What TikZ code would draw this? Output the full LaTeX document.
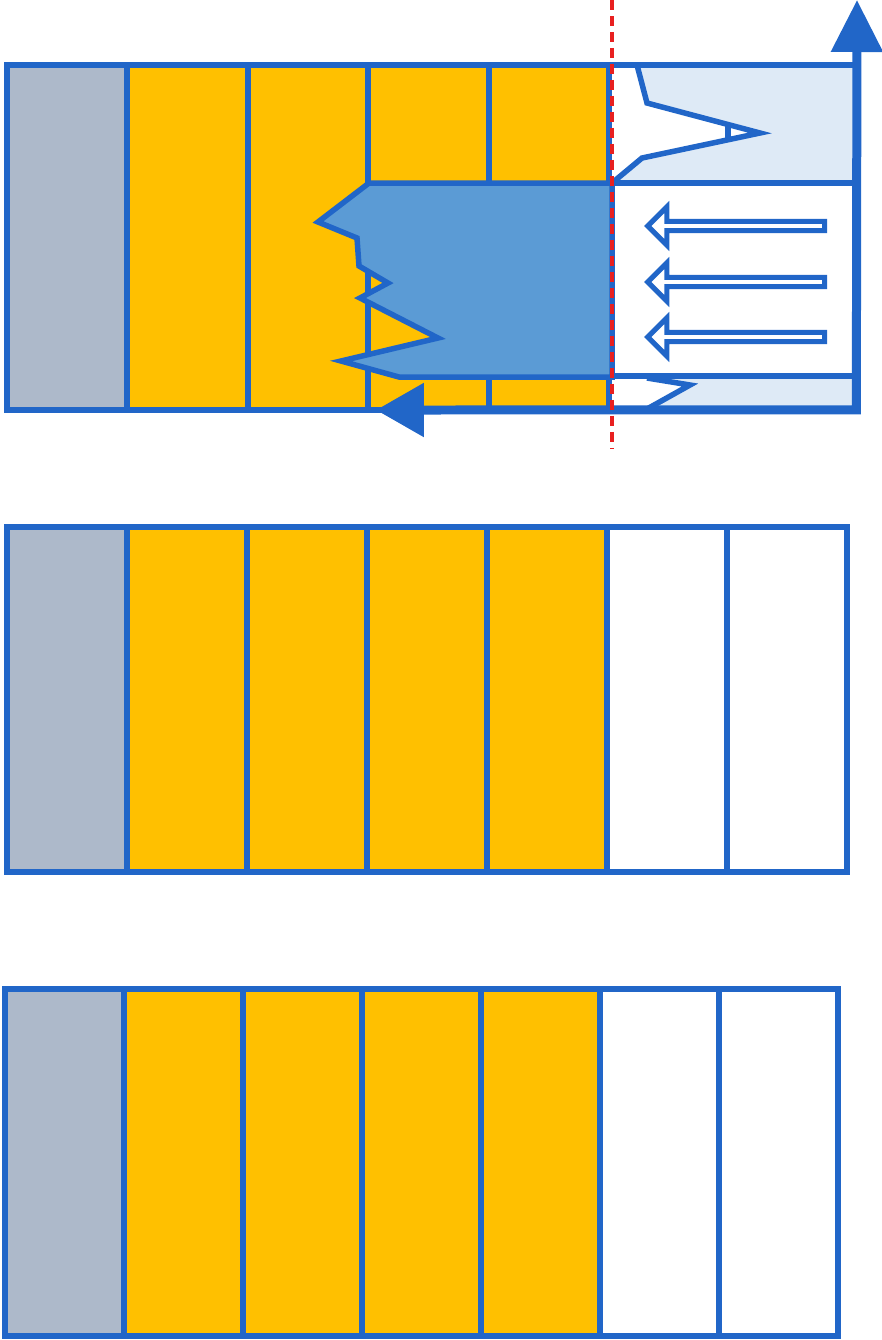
\documentclass[tikz,border=0pt]{standalone}
\usepackage{tikz}
\usepackage{xcolor}
\usetikzlibrary{positioning, shapes, arrows.meta}
\definecolor{PlanBlue}{RGB}{33,102,200}
\definecolor{PlanGrey}{RGB}{173,185,202}
\definecolor{PlanGold}{RGB}{255,192,0}
\definecolor{PlanPale}{RGB}{222,234,246}
\definecolor{PlanMid}{RGB}{91,155,213}
\definecolor{PlanRed}{RGB}{232,32,32}

\begin{document}
\begin{tikzpicture}[x=0.02cm, y=-0.02cm,
  cell/.style={rectangle, draw=PlanBlue, line width=0.12cm, minimum width=2.4cm, minimum height=6.9cm, inner sep=0pt, outer sep=0pt},
  greycell/.style={cell, fill=PlanGrey},
  goldcell/.style={cell, fill=PlanGold},
  emptycell/.style={cell, fill=white},
  panel/.style={cell, minimum width=4.94cm},
  hollow/.style={single arrow, shape border rotate=180, draw=PlanBlue, fill=white, line width=0.1cm, minimum height=3.54cm, minimum width=0.76cm, single arrow head extend=0.16cm, single arrow tip angle=90, inner sep=0pt},
  edge/.style={draw=PlanBlue, line width=0.11cm},
  axis/.style={draw=PlanBlue, line width=0.18cm, {Triangle[length=0.96cm, width=1.04cm]}-{Triangle[length=1.04cm, width=1.0cm]}},
  cutline/.style={draw=PlanRed, line width=0.07cm, dash pattern=on 0.2cm off 0.12cm}
]
    \useasboundingbox (0,0) rectangle (882,1340);

    % top row with the moving part
    \node[greycell, minimum width=2.41cm, anchor=north west] (t1) at (7,65) {};
    \node[goldcell, minimum width=2.41cm, right=0pt of t1] (t2) {};
    \node[goldcell, minimum width=2.41cm, right=0pt of t2] (t3) {};
    \node[goldcell, minimum width=2.41cm, right=0pt of t3] (t4) {};
    \node[goldcell, minimum width=2.41cm, right=0pt of t4] (t5) {};
    \node[panel, fill=PlanPale, minimum height=2.36cm, anchor=north west] (p1) at (t5.north east) {};
    \node[panel, fill=white, minimum height=3.86cm, below=0pt of p1] (p2) {};
    \node[panel, fill=PlanPale, minimum height=0.68cm, below=0pt of p2] (p3) {};

    \fill[white] (612,68) -- (637,68) -- (647,103) -- (760,133) -- (642,158) -- (612,182) -- cycle;
    \draw[edge] (637,65) -- (647,103) -- (760,133) -- (642,158) -- (612,183);
    \draw[edge] (728,126) -- (728,138);
    \fill[white] (612,379) -- (647,379) -- (690,385) -- (647,407) -- (612,407) -- cycle;
    \draw[edge] (647,378) -- (690,385) -- (647,409);

    \draw[edge, fill=PlanMid] (612,183) -- (369,183) -- (318,222) -- (357,238) -- (359,266) -- (388,283) -- (360,298) -- (438,338) -- (341,361) -- (399,377) -- (612,377) -- cycle;

    \node[hollow] (a1) at (738.5,226) {};
    \node[hollow] (a2) at (738.5,282) {};
    \node[hollow] (a3) at (738.5,337) {};

    \coordinate (axisleft) at (376,410);
    \coordinate (axistop) at (857,0);
    \draw[axis] (axisleft) -- (p3.south east) -- (axistop);

    \coordinate (cuttop) at (612,0);
    \coordinate (cutbottom) at (612,448);
    \draw[cutline] (cuttop) -- (cutbottom);

    % middle row
    \node[greycell, anchor=north west] (m1) at (7,527) {};
    \node[goldcell, right=0pt of m1] (m2) {};
    \node[goldcell, right=0pt of m2] (m3) {};
    \node[goldcell, right=0pt of m3] (m4) {};
    \node[goldcell, right=0pt of m4] (m5) {};
    \node[emptycell, right=0pt of m5] (m6) {};
    \node[emptycell, right=0pt of m6] (m7) {};

    % bottom row
    \node[greycell, minimum width=2.38cm, minimum height=6.94cm, anchor=north west] (b1) at (5,989) {};
    \node[goldcell, minimum width=2.38cm, minimum height=6.94cm, right=0pt of b1] (b2) {};
    \node[goldcell, minimum width=2.38cm, minimum height=6.94cm, right=0pt of b2] (b3) {};
    \node[goldcell, minimum width=2.38cm, minimum height=6.94cm, right=0pt of b3] (b4) {};
    \node[goldcell, minimum width=2.38cm, minimum height=6.94cm, right=0pt of b4] (b5) {};
    \node[emptycell, minimum width=2.38cm, minimum height=6.94cm, right=0pt of b5] (b6) {};
    \node[emptycell, minimum width=2.38cm, minimum height=6.94cm, right=0pt of b6] (b7) {};
\end{tikzpicture}
\end{document}
